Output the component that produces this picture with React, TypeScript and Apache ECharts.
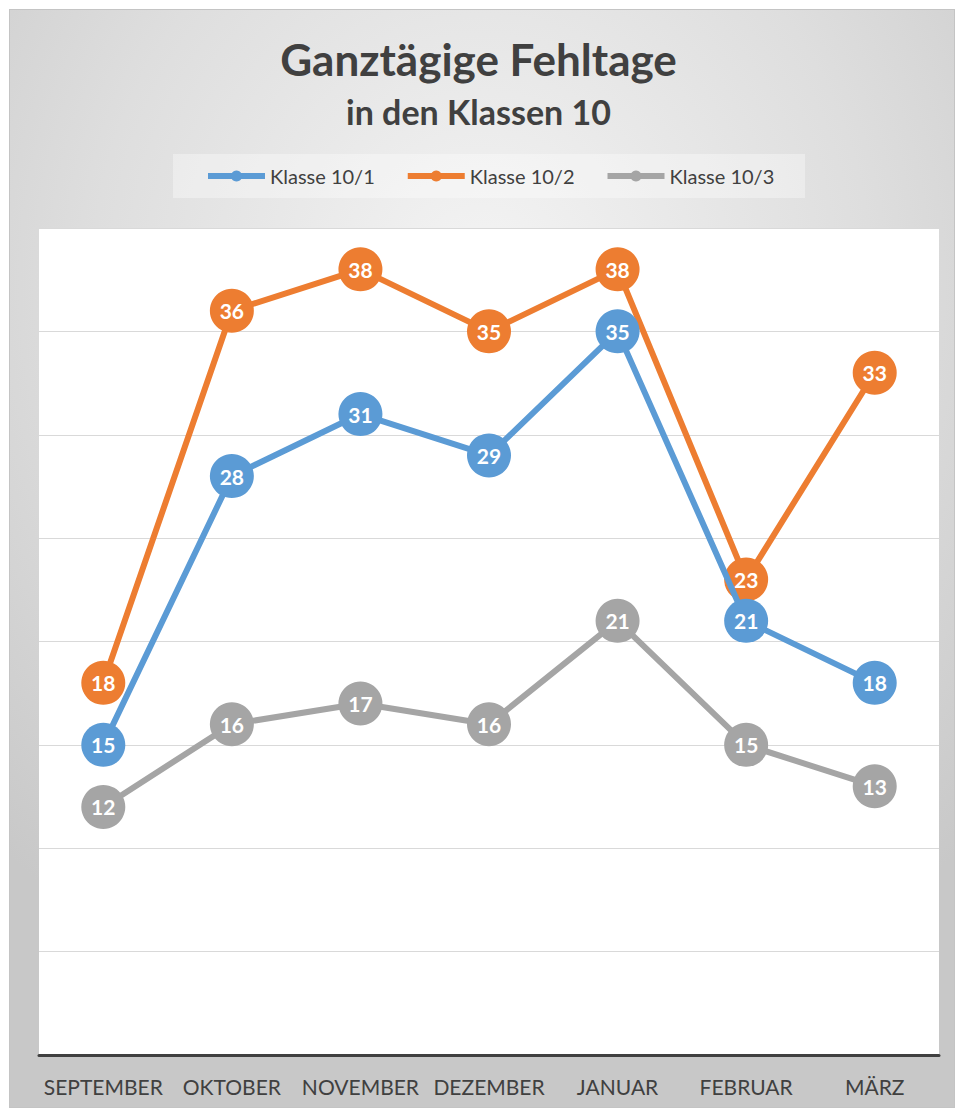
import React, { useEffect, useRef } from "react";
import * as echarts from "echarts";

const months = ["SEPTEMBER", "OKTOBER", "NOVEMBER", "DEZEMBER", "JANUAR", "FEBRUAR", "MÄRZ"];
const klasse101 = [15, 28, 31, 29, 35, 21, 18];
const klasse102 = [18, 36, 38, 35, 38, 23, 33];
const klasse103 = [12, 16, 17, 16, 21, 15, 13];
const seriesNames = ["Klasse 10/1", "Klasse 10/2", "Klasse 10/3"];
const seriesColors = ["#5b9bd5", "#ed7d31", "#a5a5a5"];

const FONT = "Lato, 'Open Sans', sans-serif";

export default function App() {
  const ref = useRef<HTMLDivElement>(null);
  useEffect(() => {
    if (!ref.current) return;
    const chart = echarts.init(ref.current, undefined, { renderer: "svg" });
    const data = [klasse101, klasse102, klasse103];
    chart.setOption({
      animation: false,
      textStyle: { fontFamily: FONT },
      title: [
        {
          text: "Ganztägige Fehltage",
          left: "center",
          top: 32,
          textStyle: { fontFamily: FONT, fontSize: 44, fontWeight: "bold", color: "#404040" },
        },
        {
          text: "in den Klassen 10",
          left: "center",
          top: 89,
          textStyle: { fontFamily: FONT, fontSize: 34, fontWeight: "bold", color: "#404040" },
        },
      ],
      graphic: [
        {
          type: "rect",
          shape: { x: 173, y: 154, width: 632, height: 44 },
          style: { fill: "rgba(255,255,255,0.35)" },
          z: -1,
        },
      ],
      legend: {
        left: 205,
        top: 166,
        itemWidth: 57,
        itemHeight: 14,
        itemGap: 30,
        padding: 0,
        lineStyle: { width: 6 },
        textStyle: { fontFamily: FONT, fontSize: 20, color: "#404040" },
        data: seriesNames,
      },
      grid: { left: 39, right: 18, top: 228, bottom: 55, backgroundColor: "#ffffff", show: true, borderWidth: 0 },
      xAxis: {
        type: "category",
        data: months,
        boundaryGap: true,
        axisLine: { lineStyle: { color: "#404040", width: 3 } },
        axisTick: { show: false },
        axisLabel: { color: "#404040", fontSize: 21, fontFamily: FONT, margin: 21, interval: 0 },
      },
      yAxis: {
        type: "value",
        min: 0,
        max: 40,
        interval: 5,
        axisLabel: { show: false },
        axisLine: { show: false },
        axisTick: { show: false },
        splitLine: { lineStyle: { color: "#d9d9d9", width: 1 } },
      },
      series: data.map((d, i) => ({
        name: seriesNames[i],
        type: "line",
        data: d,
        color: seriesColors[i],
        symbol: "circle",
        symbolSize: 44,
        lineStyle: { width: 6, color: seriesColors[i] },
        itemStyle: { color: seriesColors[i] },
        label: {
          show: true,
          position: "inside",
          color: "#ffffff",
          fontWeight: "bold",
          fontSize: 21,
          fontFamily: FONT,
        },
        z: 2 + (2 - i),
      })),
    });
    return () => chart.dispose();
  }, []);
  return (
    <div style={{ position: "absolute", left: 0, top: 0, width: 957, height: 1110, background: "#ffffff" }}>
      <div
        style={{
          position: "absolute",
          left: 9,
          top: 9,
          width: 944,
          height: 1097,
          border: "1px solid #c4c4c4",
          background: "radial-gradient(ellipse 75% 70% at 50% 25%, #f4f4f4 0%, #dedede 55%, #c8c8c8 100%)",
        }}
      />
      <div ref={ref} style={{ position: "absolute", left: 0, top: 0, width: 957, height: 1110 }} />
    </div>
  );
}
